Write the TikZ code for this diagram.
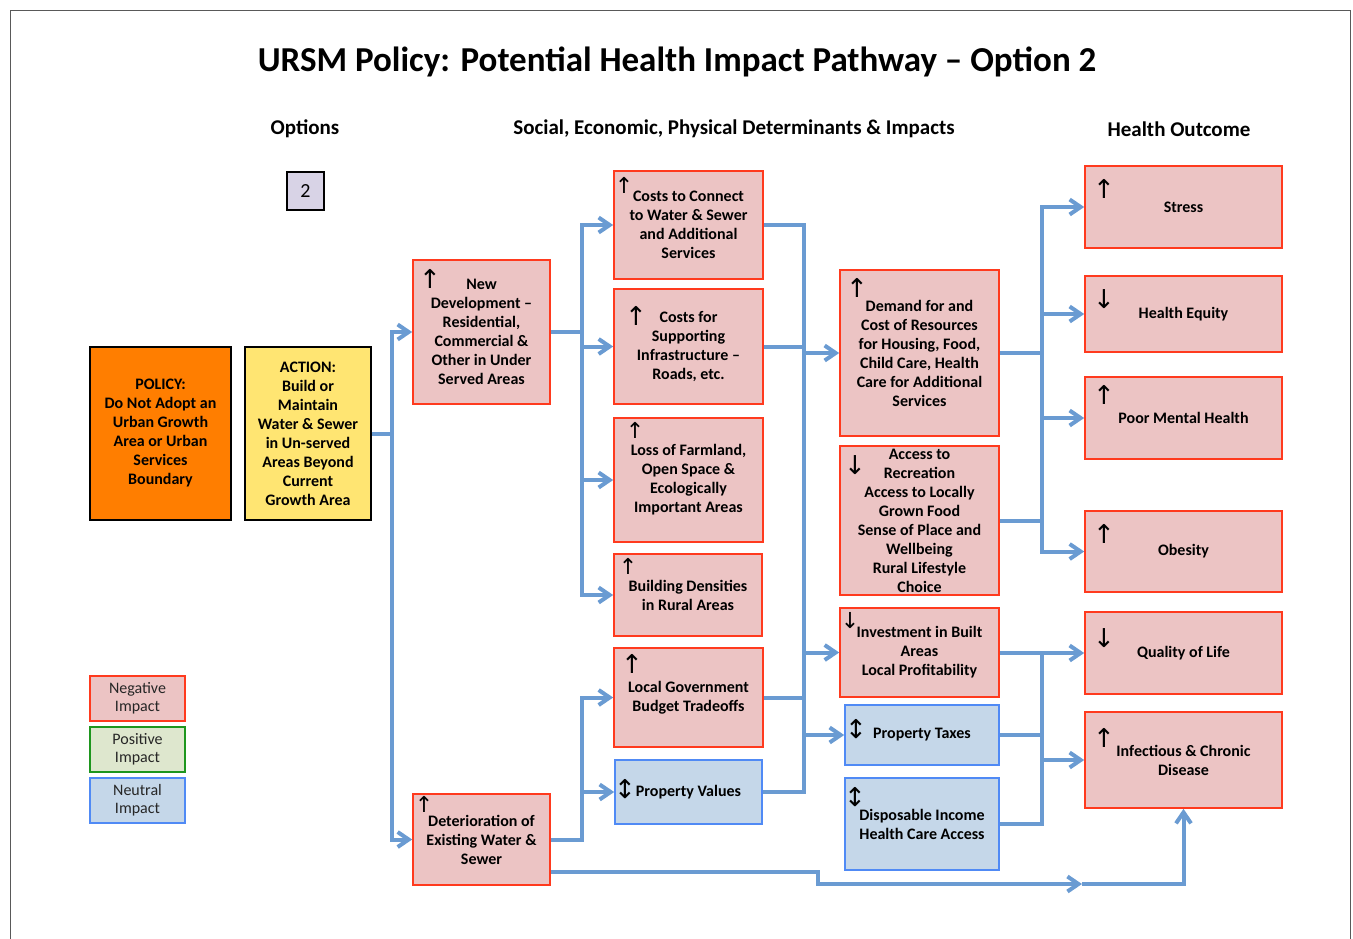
\documentclass[tikz,border=0pt]{standalone}
\usepackage{fontspec}
\setmainfont{Carlito}
\newfontfamily\symfont{DejaVu Sans}
\usetikzlibrary{arrows.meta,calc}
\definecolor{connC}{RGB}{106,155,210}
\definecolor{negF}{RGB}{236,196,196}
\definecolor{negB}{RGB}{255,58,30}
\definecolor{neuF}{RGB}{197,215,233}
\definecolor{neuB}{RGB}{80,138,245}
\definecolor{posF}{RGB}{222,231,206}
\definecolor{posB}{RGB}{30,150,30}
\definecolor{polF}{RGB}{255,126,0}
\definecolor{actF}{RGB}{255,229,114}
\definecolor{optF}{RGB}{216,211,230}
\begin{document}
\begin{tikzpicture}[x=1pt,y=-1pt,
  sz/.style 2 args={minimum width=#1pt, minimum height=#2pt},
  box/.style={draw, line width=1.6pt, align=center, inner sep=0pt, font=\fontsize{16}{19}\selectfont\bfseries},
  neg/.style={box, draw=negB, fill=negF},
  neu/.style={box, draw=neuB, fill=neuF},
  blk/.style={box, draw=black},
  leg/.style={draw, line width=1.4pt, align=center, inner sep=0pt, minimum width=95pt, minimum height=45pt, font=\fontsize{16}{18}\selectfont, text=black!85},
  ln/.style={draw=connC, line width=4pt},
  ar/.style={ln, -{Straight Barb[length=11pt,width=15pt]}},
  gl/.style={inner sep=0pt, font=\fontsize{26}{26}\selectfont\symfont},
  gls/.style={inner sep=0pt, font=\fontsize{22}{22}\selectfont\symfont},
  hd/.style={font=\fontsize{21}{24}\selectfont\bfseries}
]
\useasboundingbox (0,0) rectangle (1353,938);
\draw[black!65, line width=1pt] (10,945) -- (10,10) -- (1350,10) -- (1350,945);

% titles
\node[font=\fontsize{35}{40}\selectfont\bfseries] (title) at (677,62) {URSM Policy: Potential Health Impact Pathway – Option 2};
\node[hd] (h1) at (305,129) {Options};
\node[hd] (h2) at (734,129) {Social, Economic, Physical Determinants \& Impacts};
\node[hd] (h3) at (1179,129) {Health Outcome};

% option box
\node[draw=black, line width=1.4pt, fill=optF, sz={37}{38}, inner sep=0pt, font=\fontsize{20}{22}\selectfont] (opt) at (305.5,191) {2};

% policy and action
\node[blk, fill=polF, sz={141}{173}] (policy) at (160.5,433.5) {POLICY:\\Do Not Adopt an\\Urban Growth\\Area or Urban\\Services\\Boundary};
\node[blk, fill=actF, sz={126}{173}] (action) at (308,433.5) {ACTION:\\Build or\\Maintain\\Water \& Sewer\\in Un-served\\Areas Beyond\\Current\\Growth Area};

% column 1
\node[neg, sz={137}{144}] (newdev) at (481.5,332) {New\\Development –\\Residential,\\Commercial \&\\Other in Under\\Served Areas};
\node[neg, sz={137}{91}] (deter) at (481.5,839.5) {Deterioration of\\Existing Water \&\\Sewer};

% column 2
\node[neg, sz={149}{108}] (cconn) at (688.5,225) {Costs to Connect\\to Water \& Sewer\\and Additional\\Services};
\node[neg, sz={149}{115}] (csupp) at (688.5,346.5) {Costs for\\Supporting\\Infrastructure –\\Roads, etc.};
\node[neg, sz={149}{124}] (loss) at (688.5,480) {Loss of Farmland,\\Open Space \&\\Ecologically\\Important Areas};
\node[neg, sz={148}{82}] (build) at (688,595) {Building Densities\\in Rural Areas};
\node[neg, sz={149}{99}] (lgov) at (688.5,697.5) {Local Government\\Budget Tradeoffs};
\node[neu, sz={147}{64}] (pval) at (688.5,792) {Property Values};

% column 3
\node[neg, sz={159}{166}] (demand) at (919.5,353) {Demand for and\\Cost of Resources\\for Housing, Food,\\Child Care, Health\\Care for Additional\\Services};
\node[neg, sz={159}{149}] (access) at (919.5,520.5) {Access to\\Recreation\\Access to Locally\\Grown Food\\Sense of Place and\\Wellbeing\\Rural Lifestyle\\Choice};
\node[neg, sz={159}{89}] (invest) at (919.5,652.5) {Investment in Built\\Areas\\Local Profitability};
\node[neu, sz={154}{60}] (ptax) at (922,735) {Property Taxes};
\node[neu, sz={154}{92}] (disp) at (922,824) {Disposable Income\\Health Care Access};

% health outcomes
\node[neg, sz={197}{82}] (stress) at (1183.5,207) {Stress};
\node[neg, sz={197}{76}] (equity) at (1183.5,314) {Health Equity};
\node[neg, sz={197}{82}] (mental) at (1183.5,418) {Poor Mental Health};
\node[neg, sz={197}{81}] (obesity) at (1183.5,551.5) {Obesity};
\node[neg, sz={197}{82}] (qol) at (1183.5,653) {Quality of Life};
\node[neg, sz={197}{96}] (infect) at (1183.5,760) {Infectious \& Chronic\\Disease};

% legend
\node[leg, draw=negB, fill=negF] (lneg) at (137.5,698.5) {Negative\\Impact};
\node[leg, draw=posB, fill=posF] (lpos) at (137.5,749.5) {Positive\\Impact};
\node[leg, draw=neuB, fill=neuF] (lneu) at (137.5,800.5) {Neutral\\Impact};

% direction glyphs
\node[gl] (g1) at (430,279) {↑};
\node[gls] (g2) at (624,185) {↑};
\node[gl] (g3) at (636,316) {↑};
\node[gls] (g4) at (635,430) {↑};
\node[gls] (g5) at (628,566) {↑};
\node[gl] (g6) at (632,664) {↑};
\node[gl] (g7) at (625,789) {↕};
\node[gls] (g8) at (424,804) {↑};
\node[gl] (g9) at (857,288) {↑};
\node[gl] (g10) at (855,465) {↓};
\node[gls] (g11) at (850,621) {↓};
\node[gl] (g12) at (856,729) {↕};
\node[gl] (g13) at (855,797) {↕};
\node[gl] (g14) at (1104,189) {↑};
\node[gl] (g15) at (1104,299) {↓};
\node[gl] (g16) at (1104,395) {↑};
\node[gl] (g17) at (1104,534) {↑};
\node[gl] (g18) at (1104,638) {↓};
\node[gl] (g19) at (1104,738) {↑};

% trunk coordinates
\coordinate (xA) at (392,0);
\coordinate (xB) at (582,0);
\coordinate (xC) at (804,0);
\coordinate (xD) at (1042,0);
\coordinate (xE) at (818,0);
\coordinate (yb) at (0,884);
\coordinate (mid) at (1082,884);

% action -> column 1
\draw[ar] (action.east) -| (xA |- newdev.west) -- (newdev.west);
\draw[ar] (action.east) -| (xA |- deter.west) -- (deter.west);

% newdev -> column 2
\draw[ar] (newdev.east) -| (xB |- cconn.west) -- (cconn.west);
\draw[ar] (newdev.east) -| (xB |- build.west) -- (build.west);
\draw[ar] (xB |- csupp.west) -- (csupp.west);
\draw[ar] (xB |- loss.west) -- (loss.west);

% deter -> lgov, pval
\draw[ar] (deter.east) -| (xB |- lgov.west) -- (lgov.west);
\draw[ar] (xB |- pval.west) -- (pval.west);

% column 2 -> column 3
\draw[ln] (cconn.east) -| (xC |- pval.east) -- (pval.east);
\draw[ln] (csupp.east) -- (xC |- csupp.east);
\draw[ln] (lgov.east) -- (xC |- lgov.east);
\draw[ar] (xC |- demand.west) -- (demand.west);
\draw[ar] (xC |- invest.west) -- (invest.west);
\draw[ar] (xC |- ptax.west) -- (ptax.west);

% column 3 upper -> outcomes
\draw[ar] (demand.east) -| (xD |- stress.west) -- (stress.west);
\draw[ar] (access.east) -| (xD |- obesity.west) -- (obesity.west);
\draw[ln] (xD |- demand.east) -- (xD |- access.east);
\draw[ar] (xD |- equity.west) -- (equity.west);
\draw[ar] (xD |- mental.west) -- (mental.west);

% column 3 lower -> outcomes
\draw[ar] (invest.east) -| (xD |- qol.west) -- (qol.west);
\draw[ln] (disp.east) -| (xD |- invest.east);
\draw[ln] (ptax.east) -- (xD |- ptax.east);
\draw[ar] (xD |- infect.west) -- (infect.west);

% deter -> infect (bottom)
\draw[ar] ([yshift=14pt]deter.south east) -| (xE |- yb) -- (mid);
\draw[ar] (mid) -| (infect.south);
\end{tikzpicture}
\end{document}
